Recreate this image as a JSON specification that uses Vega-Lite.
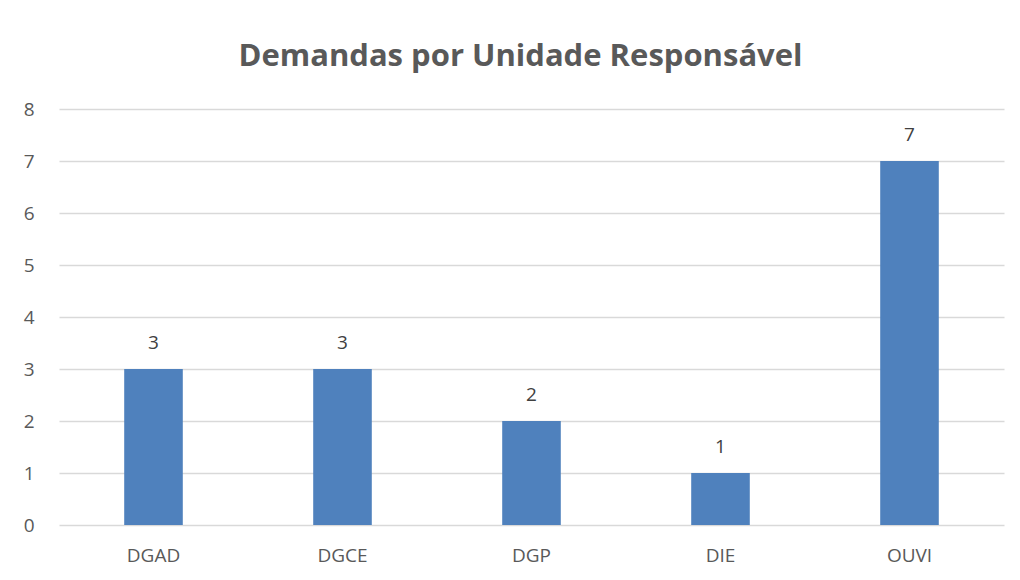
{
  "$schema": "https://vega.github.io/schema/vega-lite/v6.json",
  "autosize": "none",
  "padding": {"left": 59, "top": 109, "right": 16, "bottom": 55},
  "width": 945,
  "height": 416,
  "background": "white",
  "title": {
    "text": "Demandas por Unidade Responsável",
    "font": "Open Sans",
    "fontSize": 31,
    "fontWeight": "bold",
    "color": "#595959",
    "anchor": "middle",
    "offset": 27,
    "dx": -11
  },
  "data": {
    "values": [
      {"unidade": "DGAD", "demandas": 3},
      {"unidade": "DGCE", "demandas": 3},
      {"unidade": "DGP", "demandas": 2},
      {"unidade": "DIE", "demandas": 1},
      {"unidade": "OUVI", "demandas": 7}
    ]
  },
  "encoding": {
    "x": {
      "field": "unidade",
      "type": "nominal",
      "sort": null,
      "scale": {"paddingInner": 0.69, "paddingOuter": 0.345},
      "axis": {
        "title": null,
        "labelAngle": 0,
        "labelFont": "Open Sans",
        "labelFontSize": 19,
        "labelColor": "#595959",
        "labelPadding": 21,
        "ticks": false,
        "domain": false
      }
    },
    "y": {
      "field": "demandas",
      "type": "quantitative",
      "scale": {"domain": [0, 8], "nice": false},
      "axis": {
        "title": null,
        "values": [0, 1, 2, 3, 4, 5, 6, 7, 8],
        "labelOverlap": false,
        "labelFont": "Open Sans",
        "labelFontSize": 19,
        "labelColor": "#595959",
        "labelPadding": 25,
        "ticks": false,
        "domain": false,
        "gridColor": "#d9d9d9",
        "gridWidth": 1.5
      }
    }
  },
  "layer": [
    {"mark": {"type": "bar", "color": "#4F81BD"}},
    {
      "mark": {"type": "text", "dy": -26, "font": "Open Sans", "fontSize": 19, "color": "#404040"},
      "encoding": {"text": {"field": "demandas", "type": "quantitative"}}
    }
  ],
  "config": {"view": {"stroke": null}}
}
